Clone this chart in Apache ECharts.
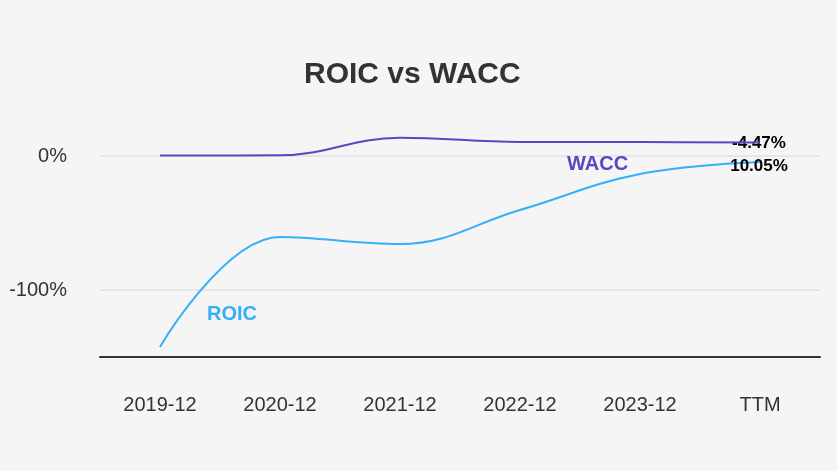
<!DOCTYPE html>
<html>
<head>
<meta charset="utf-8">
<script src="https://cdn.jsdelivr.net/npm/echarts@6/dist/echarts.min.js"></script>
<style>html,body{margin:0;padding:0;background:#f5f5f5;}#c{width:837px;height:471px;}</style>
</head>
<body>
<div id="c"></div>
<script>
const categories = ['2019-12', '2020-12', '2021-12', '2022-12', '2023-12', 'TTM'];
const roic = [-142.5, -60.4, -65.7, -40.3, -13.4, -4.47];
const wacc = [0.4, 0.5, 13.6, 10.5, 10.4, 10.05];
const yTickLabels = { '0': '0%', '-100': '-100%' };

const chart = echarts.init(document.getElementById('c'), null, { renderer: 'canvas' });
const font = '"Liberation Sans", Arial, sans-serif';
const last = categories.length - 1;

function withEndLabel(arr, offsetY) {
  return arr.map((v, i) => i === last ? {
    value: v,
    label: {
      show: true, position: 'inside', offset: [-1, offsetY],
      formatter: p => p.value.toFixed(2) + '%',
      color: '#000', fontWeight: 'bold', fontSize: 17, fontFamily: font
    }
  } : v);
}

chart.setOption({
  backgroundColor: '#f5f5f5',
  animation: false,
  title: {
    text: 'ROIC vs WACC', left: 299, top: 55,
    textStyle: { fontSize: 30, fontWeight: 'bold', color: '#333', fontFamily: font }
  },
  grid: { left: 100, right: 17, top: 89, bottom: 114 },
  xAxis: {
    type: 'category', data: categories, boundaryGap: true,
    axisLine: { onZero: false, lineStyle: { color: '#333', width: 2 } },
    axisTick: { show: false },
    axisLabel: { color: '#333', fontSize: 20, margin: 38, fontFamily: font }
  },
  yAxis: {
    type: 'value', min: -150, max: 50, interval: 50,
    axisLine: { show: false }, axisTick: { show: false },
    axisLabel: {
      color: '#333', fontSize: 20, margin: 33, fontFamily: font,
      formatter: v => yTickLabels[String(v)] || ''
    },
    splitLine: { lineStyle: { color: ['rgba(0,0,0,0)', '#e6e6e6'], width: 2 } }
  },
  graphic: [
    { type: 'text', z: 100, left: 567, top: 154, style: { text: 'WACC', fill: '#5548c2', font: 'bold 20px ' + font } },
    { type: 'text', z: 100, left: 207, top: 304, style: { text: 'ROIC', fill: '#35aff7', font: 'bold 20px ' + font } }
  ],
  series: [
    {
      name: 'WACC', type: 'line', smooth: 0.4, symbol: 'circle', symbolSize: 2, showSymbol: true,
      itemStyle: { color: 'rgba(0,0,0,0)' },
      lineStyle: { color: '#5548c2', width: 2 },
      data: withEndLabel(wacc, 24), z: 3
    },
    {
      name: 'ROIC', type: 'line', smooth: 0.4, symbol: 'circle', symbolSize: 2, showSymbol: true,
      itemStyle: { color: 'rgba(0,0,0,0)' },
      lineStyle: { color: '#35aff7', width: 2 },
      data: withEndLabel(roic, -19), z: 2
    }
  ]
});
</script>
</body>
</html>
